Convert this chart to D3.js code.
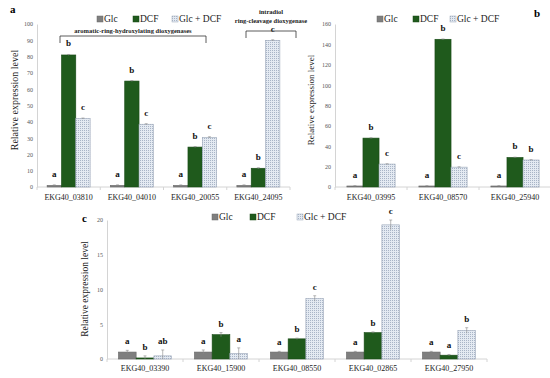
<!DOCTYPE html>
<html><head><meta charset="utf-8">
<script src="https://cdn.jsdelivr.net/npm/d3@7"></script>
<style>body{margin:0;background:#fff}svg{display:block}text{font-family:"Liberation Serif","Times New Roman",serif}</style>
</head><body>
<script>
const seriesNames = ["Glc", "DCF", "Glc + DCF"];
// Panel a
const catsA = ["EKG40_03810", "EKG40_04010", "EKG40_20055", "EKG40_24095"];
const glcA = [1, 1, 1, 1];
const dcfA = [81, 65, 24.5, 11.5];
const mixA = [42, 38.5, 30.5, 90];
const errA = [[0.3,0.3,0.3],[0.3,0.3,0.3],[0.3,0.3,0.3],[0.3,0.3,0.3]];
const letA = [["a","b","c"],["a","b","c"],["a","b","c"],["a","b","c"]];
const ticksA = [0,10,20,30,40,50,60,70,80,90,100];
// Panel b
const catsB = ["EKG40_03995", "EKG40_08570", "EKG40_25940"];
const glcB = [1, 1, 1];
const dcfB = [48, 145, 29];
const mixB = [22.5, 19.5, 26.5];
const errB = [[0.3,0.3,0.3],[0.3,0.3,0.3],[0.3,0.3,0.3]];
const letB = [["a","b","c"],["a","b","c"],["a","b","b"]];
const ticksB = [0,20,40,60,80,100,120,140,160];
// Panel c
const catsC = ["EKG40_03390", "EKG40_15900", "EKG40_08550", "EKG40_02865", "EKG40_27950"];
const glcC = [1, 1, 1, 1, 1];
const dcfC = [0.15, 3.5, 2.9, 3.8, 0.55];
const mixC = [0.45, 0.8, 8.7, 19.3, 4.1];
const errC = [[0.25,0.3,0.85],[0.3,0.3,0.8],[0.1,0.1,0.4],[0.1,0.1,0.7],[0.1,0.1,0.4]];
const letC = [["a","b","ab"],["a","b","a"],["a","b","c"],["a","b","c"],["a","a","b"]];
const ticksC = [0,5,10,15,20];

const W = 550, H = 378;
const svg = d3.select("body").append("svg").attr("width", W).attr("height", H);
const defs = svg.append("defs");
const pat = defs.append("pattern").attr("id","hatch").attr("patternUnits","userSpaceOnUse").attr("width",2).attr("height",2);
pat.append("rect").attr("width",2).attr("height",2).attr("fill","#e4eaf2");
pat.append("rect").attr("width",1).attr("height",1).attr("fill","#a8b4c6");

const fills = ["#7f7f7f", "#1f5a1c", "url(#hatch)"];
const strokes = ["#6a6a6a", "#184a16", "#9aa6b8"];

function panel(cfg) {
  const x = d3.scaleBand().domain(cfg.cats).range(cfg.xr).paddingInner(0).paddingOuter(0);
  const inner = d3.scaleBand().domain(d3.range(3)).range([0, x.bandwidth()]).paddingInner(0).paddingOuter((1 - cfg.gw) / cfg.gw * 1.5);
  const y = d3.scaleLinear().domain(cfg.dom).range(cfg.yr);
  const g = svg.append("g");
  // y axis
  const ya = g.append("g").attr("transform", `translate(${cfg.xr[0]},0)`)
    .call(d3.axisLeft(y).tickValues(cfg.ticks).tickSize(0).tickPadding(4));
  ya.select(".domain").attr("stroke", "#d4d4d4");
  ya.selectAll("text").attr("font-size", 6).attr("fill", "#555").style("font-family", "Liberation Serif");
  // x axis
  const xa = g.append("g").attr("transform", `translate(0,${cfg.yr[0]})`);
  xa.append("line").attr("x1", cfg.xr[0]).attr("x2", cfg.xr[1]).attr("stroke", "#d4d4d4");
  const bounds = cfg.cats.map(c => x(c)).concat([cfg.xr[1]]);
  xa.selectAll("line.tk").data(bounds).join("line").attr("class","tk")
    .attr("x1", d => d).attr("x2", d => d).attr("y1", 0).attr("y2", 3).attr("stroke", "#d4d4d4");
  xa.selectAll("text.cl").data(cfg.cats).join("text").attr("class","cl")
    .attr("x", d => x(d) + x.bandwidth() / 2).attr("y", cfg.labY - cfg.yr[0]).attr("text-anchor", "middle")
    .attr("font-size", 8).attr("fill", "#222").text(d => d);
  // bars
  const series = [cfg.glc, cfg.dcf, cfg.mix];
  cfg.cats.forEach((c, i) => {
    series.forEach((s, j) => {
      const v = s[i];
      const bx = x(c) + inner(j), bw = inner.bandwidth();
      g.append("rect").attr("x", bx).attr("y", y(v)).attr("width", bw).attr("height", y(0) - y(v))
        .attr("fill", fills[j]).attr("stroke", strokes[j]).attr("stroke-width", 0.6);
      const e = cfg.err[i][j];
      const cx = bx + bw / 2;
      g.append("line").attr("x1", cx).attr("x2", cx).attr("y1", y(Math.max(0, v - e))).attr("y2", y(v + e))
        .attr("stroke", "#888").attr("stroke-width", 0.6);
      g.append("line").attr("x1", cx - 1.5).attr("x2", cx + 1.5).attr("y1", y(v + e)).attr("y2", y(v + e))
        .attr("stroke", "#888").attr("stroke-width", 0.6);
      g.append("text").attr("x", cx).attr("y", y(v + e) - cfg.letOff).attr("text-anchor", "middle")
        .attr("font-size", 9).attr("font-weight", "bold").attr("fill", "#111").text(cfg.lets[i][j]);
    });
  });
  // y label
  g.append("text").attr("transform", `translate(${cfg.ylx},${cfg.yly}) rotate(-90)`)
    .attr("text-anchor", "middle").attr("dy", "0.35em").attr("font-size", cfg.ylfs).attr("fill", "#222")
    .text("Relative expression level");
  // legend
  cfg.leg.forEach((lx, j) => {
    g.append("rect").attr("x", lx).attr("y", cfg.legY - 6).attr("width", 6).attr("height", 6)
      .attr("fill", fills[j]).attr("stroke", strokes[j]).attr("stroke-width", 0.5);
    g.append("text").attr("x", lx + 7).attr("y", cfg.legY).attr("font-size", 9.5).attr("fill", "#222").text(seriesNames[j]);
  });
  return {x, y, inner};
}

panel({cats: catsA, glc: glcA, dcf: dcfA, mix: mixA, err: errA, lets: letA, ticks: ticksA,
  xr: [37, 290], yr: [187, 24], dom: [0, 100], gw: 0.68, labY: 200, letOff: 8,
  ylx: 14, yly: 100, ylfs: 10, leg: [97, 133, 172], legY: 22});
panel({cats: catsB, glc: glcB, dcf: dcfB, mix: mixB, err: errB, lets: letB, ticks: ticksB,
  xr: [335, 551], yr: [187, 24], dom: [0, 160], gw: 0.67, labY: 200, letOff: 8,
  ylx: 311, yly: 100, ylfs: 9, leg: [377, 413, 450], legY: 22});
panel({cats: catsC, glc: glcC, dcf: dcfC, mix: mixC, err: errC, lets: letC, ticks: ticksC,
  xr: [107, 487], yr: [359, 220], dom: [0, 20], gw: 0.70, labY: 371, letOff: 6,
  ylx: 85, yly: 289, ylfs: 9.5, leg: [212, 250, 297], legY: 220});

// panel letters
svg.append("text").attr("x", 10).attr("y", 13).attr("font-size", 11).attr("font-weight", "bold").text("a");
svg.append("text").attr("x", 534).attr("y", 17).attr("font-size", 11).attr("font-weight", "bold").text("b");
svg.append("text").attr("x", 82).attr("y", 222).attr("font-size", 11).attr("font-weight", "bold").text("c");

// brackets
function bracket(x1, x2, yl, lines, ty) {
  const p = d3.path();
  p.moveTo(x1, yl + 7); p.lineTo(x1, yl); p.lineTo(x2, yl); p.lineTo(x2, yl + 7);
  svg.append("path").attr("d", p.toString()).attr("fill", "none").attr("stroke", "#333").attr("stroke-width", 0.8);
  lines.forEach((t, k) => {
    svg.append("text").attr("x", (x1 + x2) / 2).attr("y", ty + k * 9).attr("text-anchor", "middle")
      .attr("font-size", 6.5).attr("font-weight", "bold").attr("fill", "#222").text(t);
  });
}
bracket(60, 206, 36, ["aromatic-ring-hydroxylating dioxygenases"], 33);
bracket(246, 296, 31, ["intradiol", "ring-cleavage dioxygenase"], 14);
</script>
</body></html>
